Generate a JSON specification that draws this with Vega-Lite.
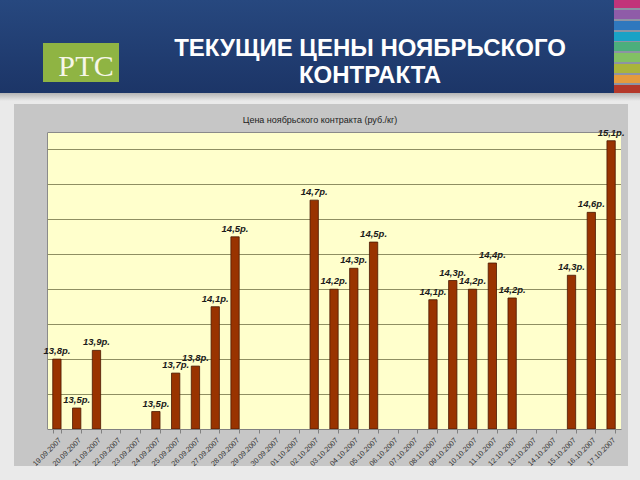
{
  "$schema": "https://vega.github.io/schema/vega-lite/v6.json",
  "width": 574,
  "height": 297,
  "autosize": {"type": "none"},
  "padding": {"left": 47, "top": 132, "right": 19, "bottom": 51},
  "background": "#eaeaea",
  "config": {
    "font": "Liberation Sans",
    "view": {"fill": "#ffffcc", "stroke": "#8a8a8a", "strokeWidth": 1}
  },
  "data": {
    "values": [
      {"d": "19.09.2007", "v": 13.80, "t": "13,8р."},
      {"d": "20.09.2007", "v": 13.52, "t": "13,5р."},
      {"d": "21.09.2007", "v": 13.85, "t": "13,9р."},
      {"d": "22.09.2007", "v": null, "t": null},
      {"d": "23.09.2007", "v": null, "t": null},
      {"d": "24.09.2007", "v": 13.50, "t": "13,5р."},
      {"d": "25.09.2007", "v": 13.72, "t": "13,7р."},
      {"d": "26.09.2007", "v": 13.76, "t": "13,8р."},
      {"d": "27.09.2007", "v": 14.10, "t": "14,1р."},
      {"d": "28.09.2007", "v": 14.50, "t": "14,5р."},
      {"d": "29.09.2007", "v": null, "t": null},
      {"d": "30.09.2007", "v": null, "t": null},
      {"d": "01.10.2007", "v": null, "t": null},
      {"d": "02.10.2007", "v": 14.71, "t": "14,7р."},
      {"d": "03.10.2007", "v": 14.20, "t": "14,2р."},
      {"d": "04.10.2007", "v": 14.32, "t": "14,3р."},
      {"d": "05.10.2007", "v": 14.47, "t": "14,5р."},
      {"d": "06.10.2007", "v": null, "t": null},
      {"d": "07.10.2007", "v": null, "t": null},
      {"d": "08.10.2007", "v": 14.14, "t": "14,1р."},
      {"d": "09.10.2007", "v": 14.25, "t": "14,3р."},
      {"d": "10.10.2007", "v": 14.20, "t": "14,2р."},
      {"d": "11.10.2007", "v": 14.35, "t": "14,4р."},
      {"d": "12.10.2007", "v": 14.15, "t": "14,2р."},
      {"d": "13.10.2007", "v": null, "t": null},
      {"d": "14.10.2007", "v": null, "t": null},
      {"d": "15.10.2007", "v": 14.28, "t": "14,3р."},
      {"d": "16.10.2007", "v": 14.64, "t": "14,6р."},
      {"d": "17.10.2007", "v": 15.05, "t": "15,1р."}
    ]
  },
  "layer": [
    {
      "data": {"values": [{}]},
      "mark": {"type": "rect", "fill": {"gradient": "linear", "x1": 0, "y1": 0, "x2": 0, "y2": 1, "stops": [{"offset": 0, "color": "#27487f"}, {"offset": 1, "color": "#1c3567"}]}},
      "encoding": {"x": {"value": -47}, "x2": {"value": 567}, "y": {"value": -132}, "y2": {"value": -39}}
    },
    {
      "data": {"values": [{}]},
      "mark": {"type": "rect", "fill": {"gradient": "linear", "x1": 0, "y1": 0, "x2": 0, "y2": 1, "stops": [
        {"offset": 0, "color": "#c2347a"}, {"offset": 0.089, "color": "#c2347a"},
        {"offset": 0.089, "color": "#8d93a4"}, {"offset": 0.108, "color": "#8d93a4"},
        {"offset": 0.108, "color": "#8f5ca8"}, {"offset": 0.204, "color": "#8f5ca8"},
        {"offset": 0.204, "color": "#8d93a4"}, {"offset": 0.226, "color": "#8d93a4"},
        {"offset": 0.226, "color": "#2f78be"}, {"offset": 0.323, "color": "#2f78be"},
        {"offset": 0.323, "color": "#8d93a4"}, {"offset": 0.341, "color": "#8d93a4"},
        {"offset": 0.341, "color": "#1aa2c6"}, {"offset": 0.438, "color": "#1aa2c6"},
        {"offset": 0.438, "color": "#8d93a4"}, {"offset": 0.455, "color": "#8d93a4"},
        {"offset": 0.455, "color": "#4cae7c"}, {"offset": 0.548, "color": "#4cae7c"},
        {"offset": 0.548, "color": "#8d93a4"}, {"offset": 0.573, "color": "#8d93a4"},
        {"offset": 0.573, "color": "#82c064"}, {"offset": 0.667, "color": "#82c064"},
        {"offset": 0.667, "color": "#8d93a4"}, {"offset": 0.688, "color": "#8d93a4"},
        {"offset": 0.688, "color": "#a9b43c"}, {"offset": 0.782, "color": "#a9b43c"},
        {"offset": 0.782, "color": "#8d93a4"}, {"offset": 0.803, "color": "#8d93a4"},
        {"offset": 0.803, "color": "#e49a3e"}, {"offset": 0.896, "color": "#e49a3e"},
        {"offset": 0.896, "color": "#8d93a4"}, {"offset": 0.917, "color": "#8d93a4"},
        {"offset": 0.917, "color": "#b4382a"}, {"offset": 1, "color": "#b4382a"}
      ]}},
      "encoding": {"x": {"value": 567}, "x2": {"value": 593}, "y": {"value": -132}, "y2": {"value": -39}}
    },
    {
      "data": {"values": [{}]},
      "mark": {"type": "rect", "fill": {"gradient": "linear", "x1": 0, "y1": 0, "x2": 0, "y2": 1, "stops": [{"offset": 0, "color": "#b4b4b4"}, {"offset": 1, "color": "#eaeaea"}]}},
      "encoding": {"x": {"value": -47}, "x2": {"value": 593}, "y": {"value": -39}, "y2": {"value": -31}}
    },
    {
      "data": {"values": [{}]},
      "mark": {"type": "rect", "fill": "#8fb443"},
      "encoding": {"x": {"value": -4}, "x2": {"value": 72}, "y": {"value": -89}, "y2": {"value": -50}}
    },
    {
      "data": {"values": [{}]},
      "mark": {"type": "text", "font": "Liberation Serif", "fontSize": 30, "fill": "#f6f6e8", "align": "center", "baseline": "alphabetic"},
      "encoding": {"x": {"value": 39}, "y": {"value": -56}, "text": {"value": "РТС"}}
    },
    {
      "data": {"values": [{}]},
      "mark": {"type": "text", "font": "Liberation Sans", "fontSize": 24, "fontWeight": "bold", "fill": "#ffffff", "align": "center", "baseline": "alphabetic"},
      "encoding": {"x": {"value": 323}, "y": {"value": -76}, "text": {"value": "ТЕКУЩИЕ ЦЕНЫ НОЯБРЬСКОГО"}}
    },
    {
      "data": {"values": [{}]},
      "mark": {"type": "text", "font": "Liberation Sans", "fontSize": 24, "fontWeight": "bold", "fill": "#ffffff", "align": "center", "baseline": "alphabetic"},
      "encoding": {"x": {"value": 323}, "y": {"value": -49}, "text": {"value": "КОНТРАКТА"}}
    },
    {
      "data": {"values": [{}]},
      "mark": {"type": "rect", "fill": "#c6c6c6"},
      "encoding": {"x": {"value": -33}, "x2": {"value": 581}, "y": {"value": -28}, "y2": {"value": 0}}
    },
    {
      "data": {"values": [{}]},
      "mark": {"type": "rect", "fill": "#c6c6c6"},
      "encoding": {"x": {"value": -33}, "x2": {"value": 581}, "y": {"value": 297}, "y2": {"value": 334}}
    },
    {
      "data": {"values": [{}]},
      "mark": {"type": "rect", "fill": "#c6c6c6"},
      "encoding": {"x": {"value": -33}, "x2": {"value": 0}, "y": {"value": 0}, "y2": {"value": 297}}
    },
    {
      "data": {"values": [{}]},
      "mark": {"type": "rect", "fill": "#c6c6c6"},
      "encoding": {"x": {"value": 574}, "x2": {"value": 581}, "y": {"value": 0}, "y2": {"value": 297}}
    },
    {
      "data": {"values": [{}]},
      "mark": {"type": "text", "font": "Liberation Sans", "fontSize": 9, "fill": "#222222", "align": "center", "baseline": "middle"},
      "encoding": {"x": {"value": 273}, "y": {"value": -12}, "text": {"value": "Цена ноябрьского контракта (руб./кг)"}}
    },
    {
      "mark": {"type": "bar", "fill": "#993300", "stroke": "#4a1800", "strokeWidth": 0.8},
      "encoding": {
        "x": {
          "field": "d", "type": "ordinal",
          "scale": {"domain": ["19.09.2007","20.09.2007","21.09.2007","22.09.2007","23.09.2007","24.09.2007","25.09.2007","26.09.2007","27.09.2007","28.09.2007","29.09.2007","30.09.2007","01.10.2007","02.10.2007","03.10.2007","04.10.2007","05.10.2007","06.10.2007","07.10.2007","08.10.2007","09.10.2007","10.10.2007","11.10.2007","12.10.2007","13.10.2007","14.10.2007","15.10.2007","16.10.2007","17.10.2007"], "paddingInner": 0.58, "paddingOuter": 0.29},
          "axis": {"title": null, "labelAngle": -45, "labelFontSize": 7.3, "labelColor": "#333333", "tickBand": "extent", "tickColor": "#808080", "tickSize": 4, "domainColor": "#808080", "labelPadding": 3, "zindex": 1}
        },
        "y": {
          "field": "v", "type": "quantitative",
          "scale": {"domain": [13.4, 15.1], "zero": false, "nice": false},
          "axis": {"title": null, "labels": false, "ticks": false, "domain": false, "tickCount": 9, "labelOverlap": false, "gridColor": "#8f8f62", "gridOpacity": 1, "gridWidth": 1, "zindex": 0}
        },
        "y2": {"datum": 13.4}
      }
    },
    {
      "mark": {"type": "text", "fontSize": 9.5, "fontWeight": "bold", "fontStyle": "italic", "fill": "#1a1a1a", "baseline": "alphabetic", "dy": -5},
      "encoding": {
        "x": {"field": "d", "type": "ordinal"},
        "y": {"field": "v", "type": "quantitative"},
        "text": {"field": "t"}
      }
    }
  ]
}
